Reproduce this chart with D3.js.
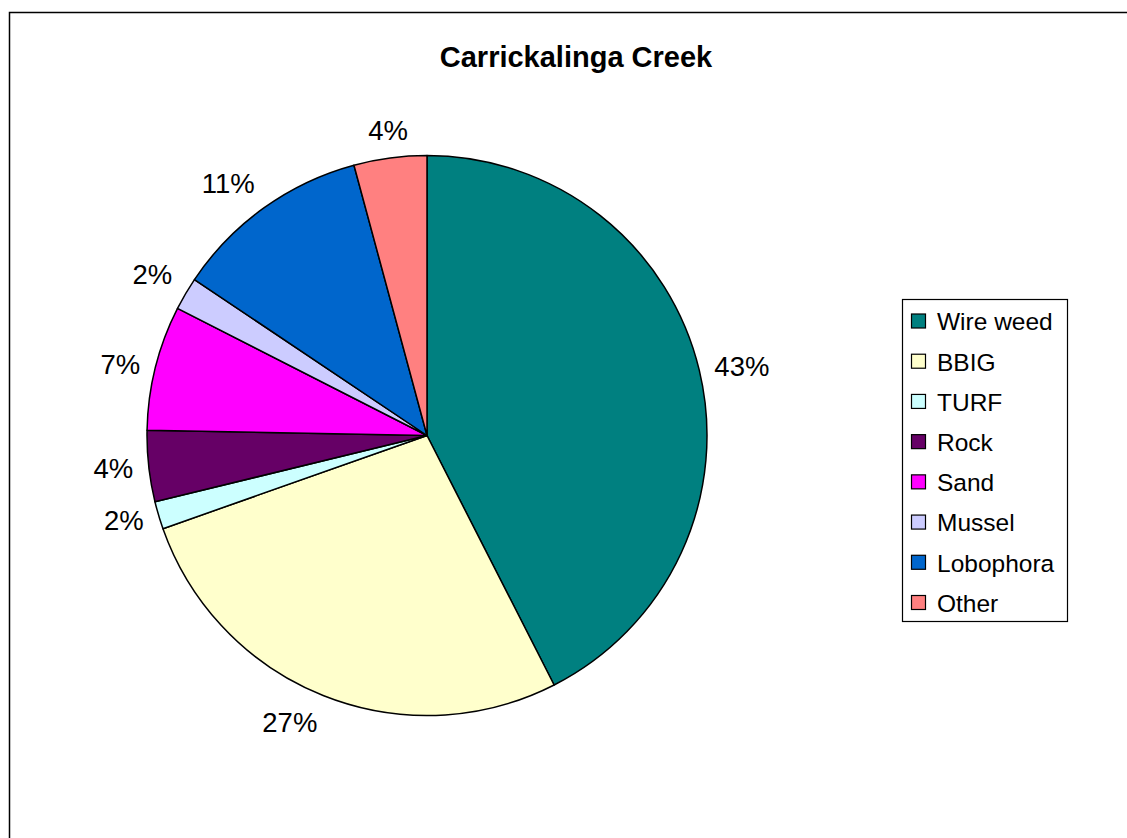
<!DOCTYPE html>
<html>
<head>
<meta charset="utf-8">
<script src="https://cdn.jsdelivr.net/npm/d3@7"></script>
<style>
  html, body { margin: 0; padding: 0; background: #fff; }
  svg { display: block; font-family: Arial, "Liberation Sans", sans-serif; }
</style>
</head>
<body>
<svg id="chart" width="1127" height="838"></svg>
<script>
// Seabed cover composition at Carrickalinga Creek (percent of total)
const categories = ["Wire weed", "BBIG", "TURF", "Rock", "Sand", "Mussel", "Lobophora", "Other"];
const coverValues = [42.5, 27.1, 1.6, 4.1, 7.2, 1.9, 11.4, 4.2];
const sliceColors = ["#008080", "#FFFFCC", "#CCFFFF", "#660066", "#FF00FF", "#CCCCFF", "#0066CC", "#FF8080"];
const chartTitle = "Carrickalinga Creek";

const data = categories.map((c, i) => ({ name: c, value: coverValues[i], color: sliceColors[i] }));

const svg = d3.select("#chart");
const W = 1127, H = 838;

// Chart area frame
svg.append("rect")
  .attr("x", 9.5).attr("y", 12.5)
  .attr("width", W + 20).attr("height", H + 20)
  .attr("fill", "#fff").attr("stroke", "#000").attr("stroke-width", 1.5);

// Title
svg.append("text")
  .attr("x", 576).attr("y", 67)
  .attr("text-anchor", "middle")
  .attr("font-size", 29).attr("font-weight", "bold")
  .text(chartTitle);

// Pie
const cx = 427, cy = 435.5, r = 280;
const pie = d3.pie().sort(null).value(d => d.value).startAngle(0).endAngle(2 * Math.PI);
const arc = d3.arc().innerRadius(0).outerRadius(r);
const total = d3.sum(coverValues);

const g = svg.append("g").attr("transform", `translate(${cx},${cy})`);
const arcs = pie(data);

g.selectAll("path.slice")
  .data(arcs)
  .join("path")
  .attr("class", "slice")
  .attr("d", arc)
  .attr("fill", d => d.data.color)
  .attr("stroke", "#000")
  .attr("stroke-width", 1.5)
  .attr("stroke-linejoin", "round");

// Percentage labels outside each slice. A point on the slice's mid-angle ray,
// just beyond the rim, anchors the label box: at its side midpoint for
// near-horizontal/vertical angles, otherwise at the box corner facing the pie.
const anchorR = r + 15.5, labelBoxH = 24, snap = Math.sin(20 * Math.PI / 180);
const labels = g.selectAll("text.pct")
  .data(arcs)
  .join("text")
  .attr("class", "pct")
  .attr("text-anchor", "middle")
  .attr("dy", "0.36em")
  .attr("font-size", 27.5)
  .text(d => Math.round(d.data.value / total * 100) + "%");

labels.each(function(d) {
  const w = this.getBBox().width;
  const a = (d.startAngle + d.endAngle) / 2;
  const s = Math.sin(a), c = Math.cos(a);
  const fx = s > snap ? 0 : s < -snap ? 1 : 0.5;
  const fy = c > snap ? 1 : c < -snap ? 0 : 0.5;
  const x = anchorR * s + (0.5 - fx) * w;
  const y = -anchorR * c + (0.5 - fy) * labelBoxH;
  d3.select(this).attr("transform", `translate(${x},${y})`);
});

// Legend
const legX = 902.5, legY = 299.5, legW = 165, legH = 322;
const leg = svg.append("g");
leg.append("rect")
  .attr("x", legX).attr("y", legY)
  .attr("width", legW).attr("height", legH)
  .attr("fill", "#fff").attr("stroke", "#000").attr("stroke-width", 1.2);

const rowY = d3.scalePoint().domain(categories).range([321.5, 603]);
const rows = leg.selectAll("g.item")
  .data(data)
  .join("g")
  .attr("class", "item")
  .attr("transform", d => `translate(0,${rowY(d.name)})`);

rows.append("rect")
  .attr("x", 911.5).attr("y", -7.5)
  .attr("width", 14).attr("height", 14)
  .attr("fill", d => d.color)
  .attr("stroke", "#000").attr("stroke-width", 1.2);

rows.append("text")
  .attr("x", 937).attr("dy", "0.36em")
  .attr("font-size", 24.5)
  .text(d => d.name);
</script>
</body>
</html>
